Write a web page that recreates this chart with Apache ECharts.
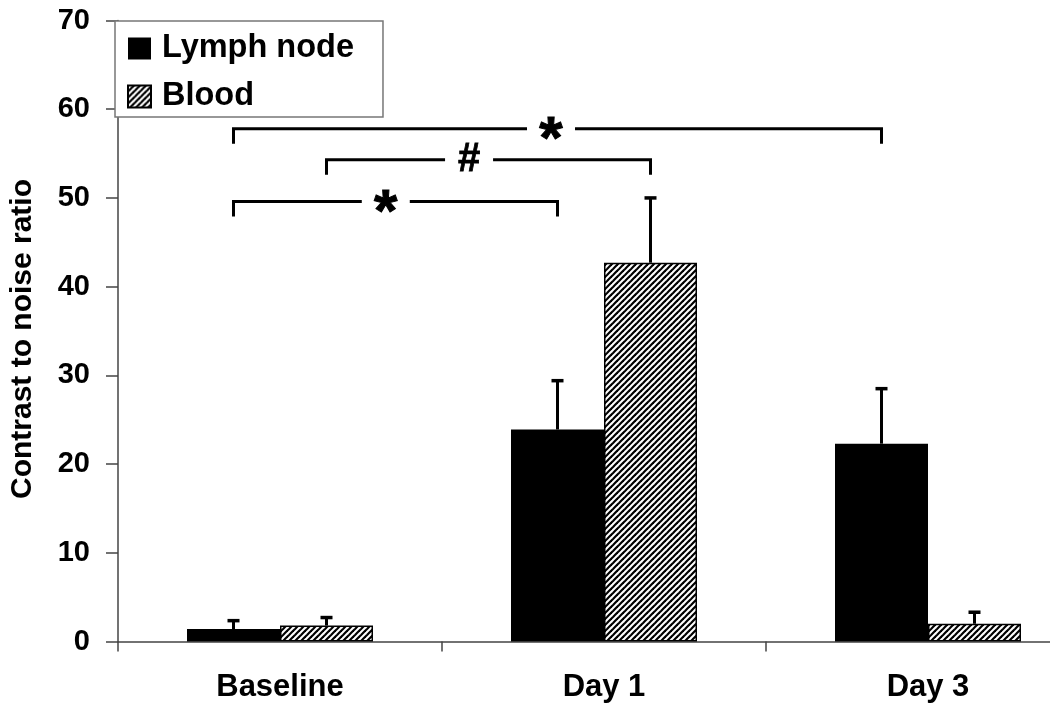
<!DOCTYPE html>
<html>
<head>
<meta charset="utf-8">
<script src="https://cdn.jsdelivr.net/npm/echarts@6/dist/echarts.min.js"></script>
<style>
html,body{margin:0;padding:0;background:#fff;overflow:hidden;}
#wrap{width:1050px;height:706px;overflow:hidden;}
#chart{width:1100px;height:706px;}
</style>
</head>
<body>
<div id="wrap"><div id="chart"></div></div>
<script>
// ---- data ----
const categories = ['Baseline', 'Day 1', 'Day 3'];
const seriesNames = ['Lymph node', 'Blood'];
const lymphNode = [1.4, 23.9, 22.3];
const lymphNodeErr = [0.95, 5.5, 6.2];
const blood = [1.8, 42.7, 2.0];
const bloodErr = [0.9, 7.3, 1.3];
const yMin = 0, yMax = 70, yStep = 10;
// significance brackets: [category, series] endpoints, level (data units), label
const sigFrom = [[0, 0], [0, 1], [0, 0]];
const sigTo = [[2, 0], [1, 1], [1, 0]];
const sigLevel = [57.8, 54.3, 49.6];
const sigLabel = ['*', '#', '*'];

// ---- styles ----
const FONT = 'Liberation Sans, Arial, sans-serif';
const BAR_W = 93;
const GRID_LEFT = 114;
const labelFrac = [0.49, 0.44, 0.47];

function hatch() {
  const p = 6;
  const c = document.createElement('canvas');
  c.width = p; c.height = p;
  const g = c.getContext('2d');
  g.fillStyle = '#fff'; g.fillRect(0, 0, p, p);
  g.strokeStyle = '#000'; g.lineWidth = 2.2;
  for (const s of [-p, 0, p]) {
    g.beginPath();
    g.moveTo(s - 1, p + 1);
    g.lineTo(s + p + 1, -1);
    g.stroke();
  }
  return c;
}
const hatchPattern = { image: hatch(), repeat: 'repeat' };

const errData = [];
categories.forEach((c, i) => {
  errData.push([i, lymphNode[i], lymphNodeErr[i], 0]);
  errData.push([i, blood[i], bloodErr[i], 1]);
});
const sigData = sigLevel.map((lv, k) => [sigFrom[k][0], sigFrom[k][1], sigTo[k][0], sigTo[k][1], lv, k]);

function off(s) { return s === 0 ? -BAR_W / 2 : BAR_W / 2; }

const chart = echarts.init(document.getElementById('chart'), null, { renderer: 'canvas' });
chart.setOption({
  backgroundColor: '#fff',
  animation: false,
  grid: { left: GRID_LEFT, right: 10, top: 20.5, bottom: 64.5 },
  legend: {
    data: seriesNames,
    orient: 'vertical',
    left: GRID_LEFT + 1, top: 21,
    padding: [11, 29, 4, 12],
    itemGap: 15,
    itemWidth: 23, itemHeight: 22,
    icon: 'rect',
    borderColor: '#777', borderWidth: 1.5,
    backgroundColor: '#fff',
    textStyle: { fontFamily: FONT, fontWeight: 'bold', fontSize: 32.5, color: '#000', lineHeight: 32, padding: [0, 0, 0, 6] }
  },
  xAxis: {
    type: 'category',
    data: categories,
    axisLine: { lineStyle: { color: '#444', width: 1.5 } },
    axisTick: { show: true, length: 10, lineStyle: { color: '#444', width: 1.5 } },
    axisLabel: { margin: 30, fontFamily: FONT, fontWeight: 'bold', fontSize: 31, color: '#000' },
    splitLine: { show: false }
  },
  yAxis: {
    type: 'value',
    min: yMin, max: yMax, interval: yStep,
    name: 'Contrast to noise ratio',
    nameLocation: 'middle',
    nameRotate: 90,
    nameGap: 80,
    nameTextStyle: { fontFamily: FONT, fontWeight: 'bold', fontSize: 30, color: '#000', padding: [0, 16, 0, 0] },
    axisLine: { show: true, lineStyle: { color: '#444', width: 1.5 } },
    axisTick: { show: true, length: 12, lineStyle: { color: '#444', width: 1.5 } },
    axisLabel: { margin: 28, fontFamily: FONT, fontWeight: 'bold', fontSize: 29, color: '#000' },
    splitLine: { show: false }
  },
  series: [
    {
      name: seriesNames[0], type: 'bar', data: lymphNode,
      barWidth: BAR_W, barGap: 0,
      itemStyle: { color: '#000' }
    },
    {
      name: seriesNames[1], type: 'bar', data: blood,
      barWidth: BAR_W, barGap: 0,
      itemStyle: { color: hatchPattern, borderColor: '#000', borderWidth: 1.5 }
    },
    {
      name: 'err', type: 'custom', data: errData, z: 5,
      encode: { x: 0, y: 1 },
      renderItem: function (params, api) {
        const cat = api.value(0), v = api.value(1), e = api.value(2), s = api.value(3);
        const b = api.coord([cat, v]);
        const t = api.coord([cat, v + e]);
        const x = b[0] + off(s);
        return {
          type: 'group',
          children: [
            { type: 'line', shape: { x1: x, y1: b[1], x2: x, y2: t[1] }, style: { stroke: '#000', lineWidth: 3 } },
            { type: 'line', shape: { x1: x - 6, y1: t[1], x2: x + 6, y2: t[1] }, style: { stroke: '#000', lineWidth: 3.5 } }
          ]
        };
      }
    },
    {
      name: 'sig', type: 'custom', data: sigData, z: 5,
      encode: { x: 0, y: 4 },
      renderItem: function (params, api) {
        const fc = api.value(0), fs = api.value(1), tc = api.value(2), ts = api.value(3), lv = api.value(4), k = api.value(5);
        const p1 = api.coord([fc, lv]);
        const p2 = api.coord([tc, lv]);
        const x1 = p1[0] + off(fs), x2 = p2[0] + off(ts), y = p1[1];
        const drop = 15, gap = 24;
        const lx = x1 + (x2 - x1) * labelFrac[k];
        const lab = sigLabel[k];
        const isStar = lab === '*';
        const fsz = isStar ? 60 : 40;
        return {
          type: 'group',
          children: [
            { type: 'polyline', shape: { points: [[x1, y + drop], [x1, y], [lx - gap, y]] }, style: { stroke: '#000', lineWidth: 3, fill: null } },
            { type: 'polyline', shape: { points: [[lx + gap, y], [x2, y], [x2, y + drop]] }, style: { stroke: '#000', lineWidth: 3, fill: null } },
            { type: 'text', style: { text: lab, x: lx, y: y + (isStar ? fsz * 0.22 : 0), textAlign: 'center', textVerticalAlign: 'middle', align: 'center', verticalAlign: 'middle', fontFamily: FONT, fontWeight: 'bold', fontSize: fsz, fill: '#000', stroke: '#000', lineWidth: isStar ? 1 : 0.8 } }
          ]
        };
      }
    }
  ]
});
</script>
</body>
</html>
